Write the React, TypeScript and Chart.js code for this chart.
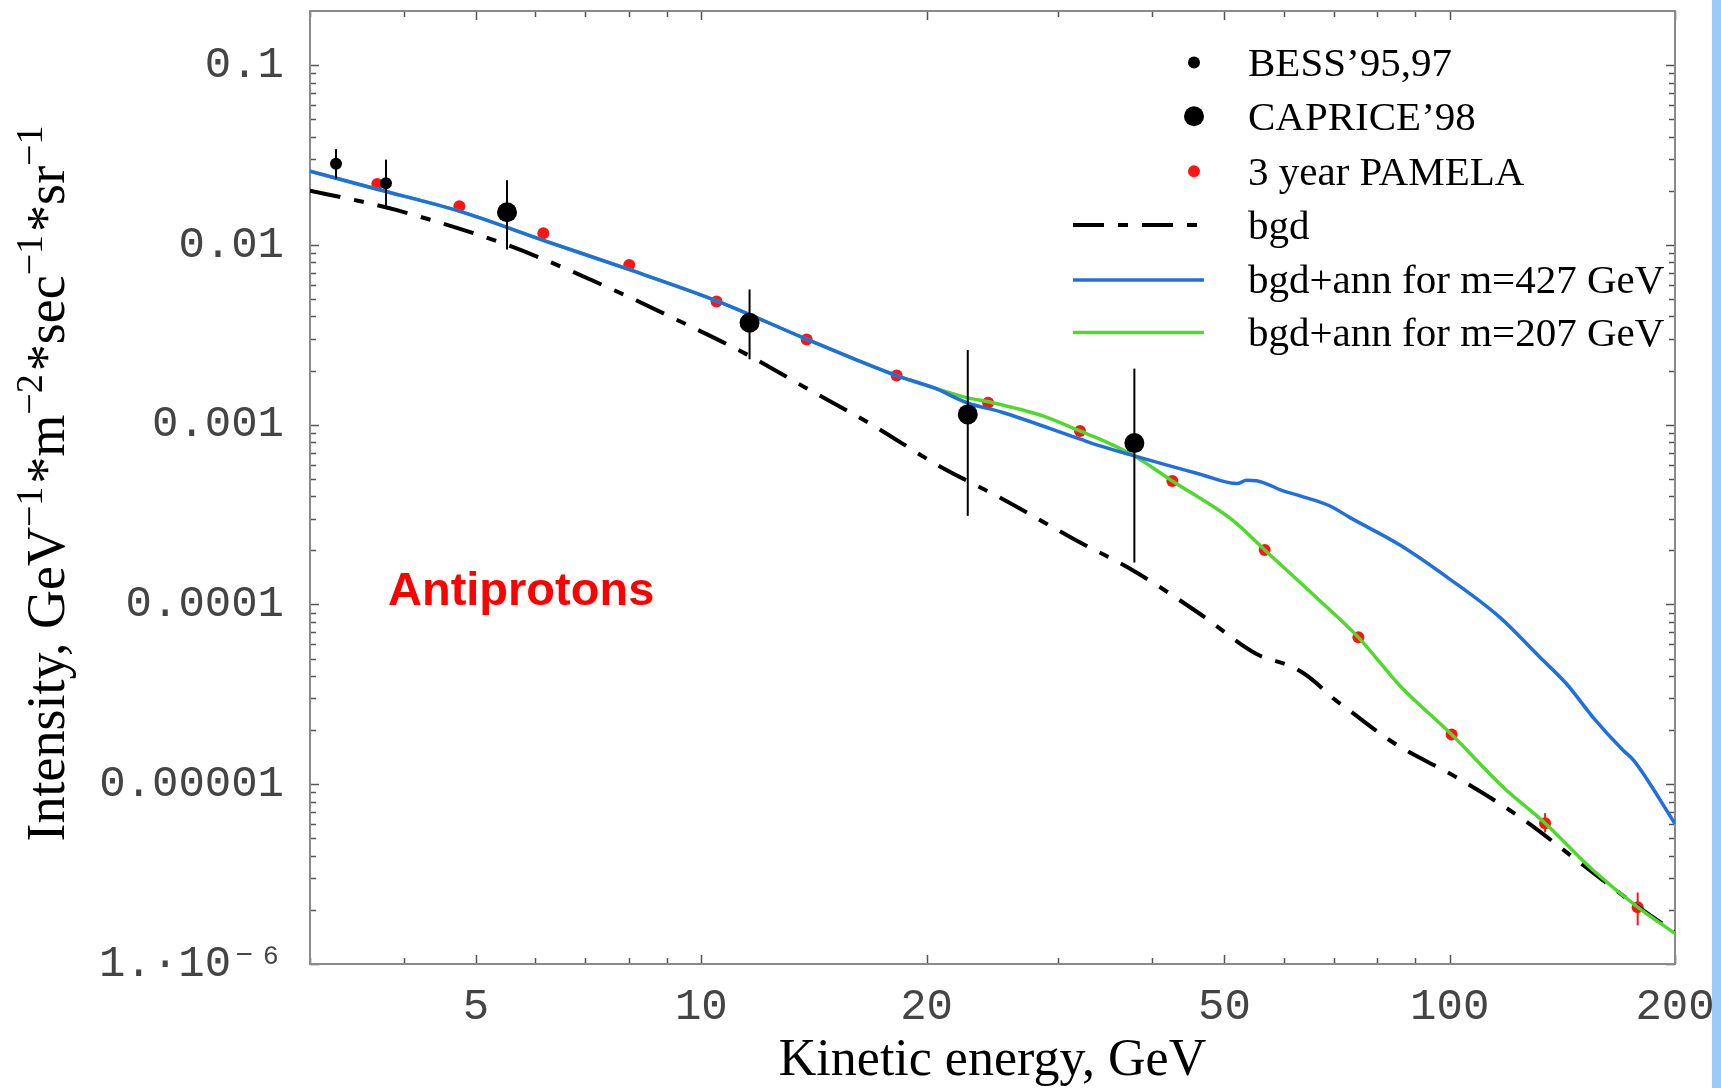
import { useEffect, useRef } from 'react';
import { Chart, registerables } from 'chart.js';

Chart.register(...registerables);

const WIDTH = 1721;
const HEIGHT = 1088;

// ---------- axes ----------
const xMin = 3;
const xMax = 200;
const yMin = 1e-6;
const yMax = 0.2;
const xTickValues = [5, 10, 20, 50, 100, 200];
const xTickLabels = ['5', '10', '20', '50', '100', '200'];
const xMinorTickValues = [3, 4, 6, 7, 8, 9, 30, 40, 60, 70, 80, 90];
const yTickValues = [1e-6, 1e-5, 1e-4, 1e-3, 1e-2, 1e-1];
const yTickLabels = ['1.·10⁻⁶', '0.00001', '0.0001', '0.001', '0.01', '0.1'];
const yMinorMultipliers = [2, 3, 4, 5, 6, 7, 8, 9];

// ---------- data: BESS'95,97 ----------
const bessEnergy = [3.25, 3.79];
const bessFlux = [0.0283, 0.022];
const bessFluxLow = [0.0234, 0.0164];
const bessFluxHigh = [0.0341, 0.0298];

// ---------- data: CAPRICE'98 ----------
const capriceEnergy = [5.5, 11.6, 22.7, 37.9];
const capriceFlux = [0.0152, 0.00369, 0.00114, 0.00079];
const capriceFluxLow = [0.00943, 0.00231, 0.000311, 0.000171];
const capriceFluxHigh = [0.0229, 0.00565, 0.0026, 0.00205];

// ---------- data: 3 year PAMELA ----------
const pamelaEnergy = [3.69, 4.75, 6.15, 8.01, 10.48, 13.83, 18.24, 24.17, 32.06, 42.6, 56.6, 75.5, 100.6, 134.1, 178.3];
const pamelaFlux = [0.0218, 0.0164, 0.0116, 0.00774, 0.00485, 0.00298, 0.00188, 0.001324, 0.000922, 0.000486, 0.000201, 6.56e-5, 1.89e-5, 6.07e-6, 2.07e-6];
const pamelaFluxLow = [null, null, null, null, null, null, null, null, null, null, null, 6.1e-5, 1.76e-5, 5.4e-6, 1.64e-6];
const pamelaFluxHigh = [null, null, null, null, null, null, null, null, null, null, null, 7.0e-5, 2.03e-5, 6.9e-6, 2.5e-6];

// ---------- curve: bgd ----------
const bgdEnergy = [3.0, 3.5, 3.92, 5.5, 7.47, 9.25, 11.5, 13.8, 17.0, 20.6, 25.3, 31.4, 37.8, 46.4, 55.2, 61.8, 65, 70, 74, 84.5, 103, 125, 151, 180, 200];
const bgdFlux = [0.02, 0.0175, 0.0156, 0.01, 0.00585, 0.00385, 0.00246, 0.0016, 0.000985, 0.000602, 0.000385, 0.000232, 0.000154, 8.85e-5, 5.3e-5, 4.47e-5, 3.92e-5, 2.99e-5, 2.51e-5, 1.68e-5, 1.07e-5, 6.43e-6, 3.53e-6, 2.03e-6, 1.5e-6];

// ---------- curve: bgd+ann m=427 GeV ----------
const ann427Energy = [3.0, 3.69, 4.75, 6.15, 8.0, 10.5, 13.8, 18.2, 20.4, 22.7, 25.1, 32.1, 34.1, 37.9, 46.4, 52.0, 53.5, 55.2, 59.9, 63.1, 69.2, 73.6, 85.8, 100.1, 116.7, 132, 143.3, 155.5, 170.6, 176, 200];
const ann427Flux = [0.0257, 0.0204, 0.0154, 0.0106, 0.0073, 0.00487, 0.003, 0.00188, 0.00161, 0.00132, 0.00118, 0.00083, 0.000762, 0.00067, 0.00053, 0.00047, 0.000491, 0.000488, 0.000428, 0.000402, 0.000353, 0.000304, 0.000214, 0.000138, 8.47e-5, 5.08e-5, 3.61e-5, 2.35e-5, 1.54e-5, 1.36e-5, 6.03e-6];

// ---------- curve: bgd+ann m=207 GeV ----------
const ann207Energy = [3.0, 3.69, 4.75, 6.15, 8.0, 10.5, 13.8, 18.2, 20.4, 22.7, 24.2, 28.6, 32.1, 34.1, 37.9, 42.6, 51.4, 56.6, 66.4, 75.5, 85.8, 100.6, 117.9, 134.1, 155.5, 178.3, 200];
const ann207Flux = [0.0257, 0.0204, 0.0154, 0.0106, 0.0073, 0.00487, 0.003, 0.00188, 0.00161, 0.00141, 0.00134, 0.00112, 0.00092, 0.00083, 0.00067, 0.000486, 0.000292, 0.000201, 0.000109, 6.56e-5, 3.53e-5, 1.89e-5, 9.62e-6, 6.07e-6, 3.32e-6, 2.07e-6, 1.48e-6];

// ---------- texts ----------
const seriesLabels = ['BESS’95,97', 'CAPRICE’98', '3 year PAMELA', 'bgd', 'bgd+ann for m=427 GeV', 'bgd+ann for m=207 GeV'];
const xTitle = 'Kinetic energy, GeV';
const yTitleParts: [string, boolean][] = [
  ['Intensity, GeV', false], ['−1', true], ['*m', false], ['−2', true],
  ['*sec', false], ['−1', true], ['*sr', false], ['−1', true],
];
const annotationText = 'Antiprotons';

const toXY = (xs: number[], ys: number[]) => xs.map((x, i) => ({ x, y: ys[i] }));

const errorBarPlugin = {
  id: 'errorBars',
  beforeDatasetDraw(chart: any, args: any) {
    const ds = chart.data.datasets[args.index];
    if (!ds.errLow) return;
    const { ctx, chartArea: a } = chart;
    const xs = chart.scales.x;
    const ys = chart.scales.y;
    ctx.save();
    ctx.beginPath();
    ctx.rect(a.left, a.top, a.right - a.left, a.bottom - a.top);
    ctx.clip();
    ctx.strokeStyle = ds.errColor;
    ctx.lineWidth = ds.errWidth;
    ds.data.forEach((p: any, i: number) => {
      const lo = ds.errLow[i];
      const hi = ds.errHigh[i];
      if (lo == null || hi == null) return;
      const px = xs.getPixelForValue(p.x);
      ctx.beginPath();
      ctx.moveTo(px, ys.getPixelForValue(lo));
      ctx.lineTo(px, ys.getPixelForValue(hi));
      ctx.stroke();
    });
    ctx.restore();
  },
};

const framePlugin = {
  id: 'frame',
  beforeDatasetsDraw(chart: any) {
    const { ctx, chartArea: a } = chart;
    const xs = chart.scales.x;
    const ys = chart.scales.y;
    ctx.save();
    ctx.strokeStyle = '#555';
    ctx.lineWidth = 1.5;
    const xMark = (v: number, len: number) => {
      const px = Math.round(xs.getPixelForValue(v)) + 0.5;
      ctx.beginPath();
      ctx.moveTo(px, a.bottom); ctx.lineTo(px, a.bottom - len);
      ctx.moveTo(px, a.top); ctx.lineTo(px, a.top + len);
      ctx.stroke();
    };
    const yMark = (v: number, len: number) => {
      const py = Math.round(ys.getPixelForValue(v)) + 0.5;
      ctx.beginPath();
      ctx.moveTo(a.left, py); ctx.lineTo(a.left + len, py);
      ctx.moveTo(a.right, py); ctx.lineTo(a.right - len, py);
      ctx.stroke();
    };
    xTickValues.forEach((v) => xMark(v, 9));
    xMinorTickValues.forEach((v) => xMark(v, 6));
    yTickValues.forEach((v) => {
      yMark(v, 9);
      yMinorMultipliers.forEach((m) => {
        const mv = v * m;
        if (mv < yMax) yMark(mv, 6);
      });
    });
    ctx.strokeStyle = '#8a8a8a';
    ctx.lineWidth = 2;
    ctx.strokeRect(a.left, a.top, a.right - a.left, a.bottom - a.top);
    ctx.restore();
  },
};

const overlayPlugin = {
  id: 'overlay',
  afterDraw(chart: any) {
    const { ctx, chartArea: a } = chart;
    ctx.save();

    // legend
    const rowY = [62.6, 116.3, 171.2, 225, 279.9, 332.6];
    const markerX = 1194;
    const lineX0 = 1073;
    const lineX1 = 1204;
    const textX = 1248;
    chart.data.datasets.forEach((ds: any, i: number) => {
      const y = rowY[i];
      if (ds.showLine) {
        ctx.save();
        ctx.strokeStyle = ds.borderColor;
        ctx.lineWidth = ds.borderWidth;
        ctx.setLineDash(ds.borderDash || []);
        ctx.beginPath();
        ctx.moveTo(lineX0, y);
        ctx.lineTo(lineX1, y);
        ctx.stroke();
        ctx.restore();
      } else {
        ctx.fillStyle = ds.pointBackgroundColor;
        ctx.beginPath();
        ctx.arc(markerX, y, ds.pointRadius, 0, Math.PI * 2);
        ctx.fill();
      }
      ctx.fillStyle = '#000';
      ctx.font = '41px "Liberation Serif"';
      ctx.textAlign = 'left';
      ctx.textBaseline = 'alphabetic';
      ctx.fillText(ds.label, textX, y + 13.5);
    });

    // x title
    ctx.fillStyle = '#000';
    ctx.font = '52px "Liberation Serif"';
    ctx.textAlign = 'center';
    ctx.textBaseline = 'alphabetic';
    ctx.fillText(xTitle, (a.left + a.right) / 2, 1075);

    // y title (rotated, with superscripts)
    const mainFont = '54px "Liberation Serif"';
    const supFont = '38px "Liberation Serif"';
    const gap = 3;
    let total = 0;
    yTitleParts.forEach(([t, sup]) => {
      ctx.font = sup ? supFont : mainFont;
      total += ctx.measureText(t).width + (sup ? gap : 0);
    });
    ctx.save();
    ctx.translate(63.7, 482);
    ctx.rotate(-Math.PI / 2);
    ctx.textAlign = 'left';
    let cx = -total / 2;
    yTitleParts.forEach(([t, sup]) => {
      ctx.font = sup ? supFont : mainFont;
      ctx.fillText(t, cx, sup ? -22 : 0);
      cx += ctx.measureText(t).width + (sup ? gap : 0);
    });
    ctx.restore();

    // annotation
    ctx.fillStyle = '#ff0000';
    ctx.font = 'bold 47px "Liberation Sans"';
    ctx.textAlign = 'left';
    ctx.fillText(annotationText, 388, 605);

    // slide edge strip
    ctx.fillStyle = '#9dcbf7';
    ctx.fillRect(1712, 0, WIDTH - 1712, HEIGHT);
    ctx.restore();
  },
};

export default function App() {
  const ref = useRef<HTMLCanvasElement>(null);

  useEffect(() => {
    const canvas = ref.current;
    if (!canvas) return;
    const tickFont = { family: '"Liberation Mono", monospace', size: 44, lineHeight: 1.2 };
    const chart = new Chart(canvas, {
      type: 'scatter',
      data: {
        datasets: [
          {
            label: seriesLabels[0],
            data: toXY(bessEnergy, bessFlux),
            showLine: false,
            pointRadius: 6,
            pointHoverRadius: 6,
            pointBackgroundColor: '#000',
            pointBorderWidth: 0,
            borderColor: '#000',
            order: 0,
            errLow: bessFluxLow,
            errHigh: bessFluxHigh,
            errColor: '#000',
            errWidth: 2,
          } as any,
          {
            label: seriesLabels[1],
            data: toXY(capriceEnergy, capriceFlux),
            showLine: false,
            pointRadius: 10,
            pointHoverRadius: 10,
            pointBackgroundColor: '#000',
            pointBorderWidth: 0,
            borderColor: '#000',
            order: 0,
            errLow: capriceFluxLow,
            errHigh: capriceFluxHigh,
            errColor: '#000',
            errWidth: 2,
          } as any,
          {
            label: seriesLabels[2],
            data: toXY(pamelaEnergy, pamelaFlux),
            showLine: false,
            pointRadius: 6,
            pointHoverRadius: 6,
            pointBackgroundColor: '#ff1414',
            pointBorderWidth: 0,
            borderColor: '#ff1414',
            order: 4,
            errLow: pamelaFluxLow,
            errHigh: pamelaFluxHigh,
            errColor: '#ff1414',
            errWidth: 2,
          } as any,
          {
            label: seriesLabels[3],
            data: toXY(bgdEnergy, bgdFlux),
            showLine: true,
            pointRadius: 0,
            borderColor: '#000',
            borderWidth: 4,
            borderDash: [31, 14, 10, 14],
            borderCapStyle: 'butt',
            cubicInterpolationMode: 'monotone',
            order: 3,
          } as any,
          {
            label: seriesLabels[4],
            data: toXY(ann427Energy, ann427Flux),
            showLine: true,
            pointRadius: 0,
            borderColor: '#1f6fe0',
            borderWidth: 3.5,
            cubicInterpolationMode: 'monotone',
            order: 1,
          } as any,
          {
            label: seriesLabels[5],
            data: toXY(ann207Energy, ann207Flux),
            showLine: true,
            pointRadius: 0,
            borderColor: '#4fd92c',
            borderWidth: 3.5,
            cubicInterpolationMode: 'monotone',
            order: 2,
          } as any,
        ],
      },
      options: {
        animation: false,
        responsive: false,
        devicePixelRatio: 1,
        events: [],
        layout: { padding: { left: 0, top: 11, right: 46, bottom: 0 } },
        plugins: { legend: { display: false }, tooltip: { enabled: false } },
        scales: {
          x: {
            type: 'logarithmic',
            position: 'bottom',
            min: xMin,
            max: xMax,
            grid: { display: false },
            border: { display: false },
            title: { display: false },
            ticks: {
              autoSkip: false,
              maxRotation: 0,
              minRotation: 0,
              padding: 9,
              color: '#444',
              font: tickFont,
              callback: (_v: any, i: number) => xTickLabels[i] ?? '',
            },
            afterBuildTicks: (s: any) => {
              s.ticks = xTickValues.map((v) => ({ value: v }));
            },
            afterFit: (s: any) => {
              s.height = 124;
              s.paddingLeft = 0;
              s.paddingRight = 0;
              s.paddingTop = 0;
              s.paddingBottom = 0;
            },
          },
          y: {
            type: 'logarithmic',
            position: 'left',
            min: yMin,
            max: yMax,
            grid: { display: false },
            border: { display: false },
            title: { display: false },
            ticks: {
              autoSkip: false,
              padding: 18,
              color: '#444',
              font: tickFont,
              callback: (_v: any, i: number) => yTickLabels[i] ?? '',
            },
            afterBuildTicks: (s: any) => {
              s.ticks = yTickValues.map((v) => ({ value: v }));
            },
            afterFit: (s: any) => {
              s.width = 310;
              s.paddingLeft = 0;
              s.paddingRight = 0;
              s.paddingTop = 0;
              s.paddingBottom = 0;
            },
          },
        },
      } as any,
      plugins: [errorBarPlugin, framePlugin, overlayPlugin],
    });
    return () => chart.destroy();
  }, []);

  return (
    <div style={{ position: 'fixed', left: 0, top: 0, width: WIDTH, height: HEIGHT, background: '#fff' }}>
      <canvas ref={ref} width={WIDTH} height={HEIGHT} style={{ display: 'block', width: WIDTH, height: HEIGHT }} />
    </div>
  );
}
